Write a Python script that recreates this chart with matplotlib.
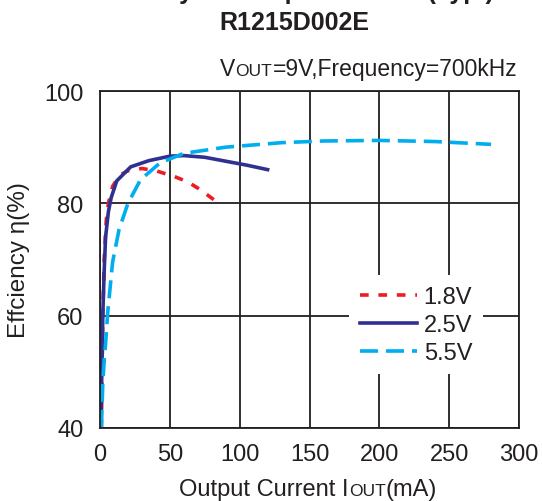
import matplotlib
matplotlib.use('Agg')
import matplotlib.pyplot as plt

plt.rcParams['font.family'] = ['Liberation Sans', 'DejaVu Sans']

# ---- data ----
iout_18 = [1, 1.5, 2, 3, 4.5, 6, 9, 14, 20, 30, 40, 53, 63, 72, 85]
eff_18 = [40, 50, 60, 70, 77, 80, 83, 85, 85.8, 86.2, 85.8, 84.8, 83.8, 82.4, 80]

iout_25 = [0.5, 1, 1.5, 2, 3, 4, 6, 8, 12, 22, 35, 50, 60, 75, 90, 105, 120]
eff_25 = [40, 46, 52, 60, 68, 74, 78.5, 81, 84, 86.5, 87.6, 88.4, 88.5, 88.2, 87.5, 86.8, 86.0]

iout_55 = [1, 2, 3, 4, 5.5, 9, 13.6, 20, 29, 43, 60, 90, 130, 160, 200, 240, 280]
eff_55 = [40, 48, 52, 55, 60.5, 69.5, 75.3, 80, 84.2, 87.2, 88.9, 90.0, 90.8, 91.1, 91.2, 91.0, 90.5]

labels = ['1.8V', '2.5V', '5.5V']
x_ticks = [0, 50, 100, 150, 200, 250, 300]
y_ticks = [40, 60, 80, 100]

W, H = 542, 502
INK = '#231f20'
fig = plt.figure(figsize=(W / 100, H / 100), dpi=100)
ax = fig.add_axes([100 / W, 1 - 429 / H, 419 / W, 337 / H])

ax.plot(iout_18, eff_18, color='#ed1c24', lw=2.6, dashes=(2.4, 2.7), label=labels[0])
ax.plot(iout_25, eff_25, color='#2e3192', lw=2.6, label=labels[1])
ax.plot(iout_55, eff_55, color='#00aeef', lw=2.6, dashes=(5.0, 2.2), label=labels[2])

ax.set_xlim(0, 300)
ax.set_ylim(40, 100)
ax.set_xticks(x_ticks)
ax.set_yticks(y_ticks)
ax.tick_params(length=0, labelsize=17, colors=INK)
ax.tick_params(axis='y', pad=12)
ax.tick_params(axis='x', pad=11)
ax.grid(True, color=INK, lw=1.3)
for s in ax.spines.values():
    s.set_color(INK)
    s.set_linewidth(1.3)
ax.set_axisbelow(True)

# white box without border hides the grid behind the legend
leg = ax.legend(loc='center left', bbox_to_anchor=(0.595, 0.306), fontsize=17, frameon=True,
                facecolor='white', edgecolor='none', framealpha=1, fancybox=False,
                handlelength=2.4, handletextpad=0.3, labelspacing=0.25, borderaxespad=0,
                borderpad=0.45)
for t in leg.get_texts():
    t.set_color(INK)

ax.set_ylabel('Effciency η(%)', fontsize=17.5, color=INK, labelpad=10)

renderer = fig.canvas.get_renderer()


def rich_text(x_px, y_px, parts, ha='left', **kw):
    # draw text pieces side by side, baseline aligned (for small-caps subscripts)
    texts = [fig.text(0, 0, s, fontsize=fs, va='baseline', color=INK, **kw) for s, fs in parts]
    widths = [t.get_window_extent(renderer).width for t in texts]
    total = sum(widths)
    cur = x_px - (total if ha == 'right' else total / 2 if ha == 'center' else 0)
    for t, w in zip(texts, widths):
        t.set_position((cur / W, 1 - y_px / H))
        cur += w


rich_text(517, 76, [('V', 16.5), ('OUT', 12.5), ('=9V,Frequency=700kHz', 16.5)], ha='right')
rich_text(308, 496, [('Output Current I', 17), ('OUT', 12.5), ('(mA)', 17)], ha='center')

fig.text(294 / W, 1 - 30 / H, 'R1215D002E', fontsize=18, fontweight='bold', ha='center',
         va='baseline', color=INK)
# first title line is cut off by the top edge of the picture
fig.text(284 / W, 1 + 0.5 / H, 'Efficiency vs. Output Current (Typ.)', fontsize=18,
         fontweight='bold', ha='center', va='baseline', color=INK)

fig.savefig('out.png', dpi=100)
